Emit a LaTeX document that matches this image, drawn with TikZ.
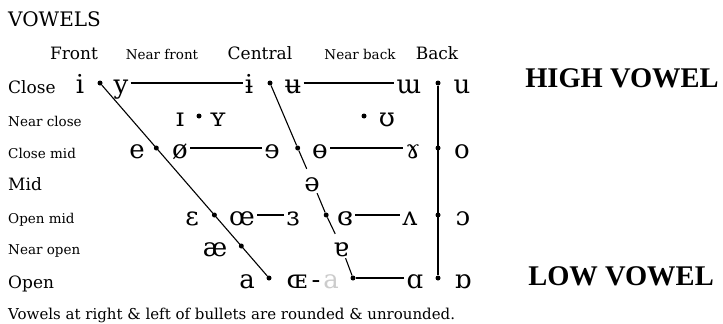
\documentclass[tikz,border=0pt]{standalone}
\usepackage{fontspec}
\setmainfont{DejaVu Serif}
\newfontfamily\tagfont{Liberation Serif}
\usetikzlibrary{positioning}

\begin{document}
\begin{tikzpicture}[x=1pt, y=-1pt,
  vow/.style={font=\fontsize{26}{26}\selectfont, inner sep=2pt, text height=20pt, text depth=0pt},
  dot/.style={circle, fill=black, inner sep=0pt, minimum size=5pt},
  bighead/.style={font=\fontsize{17}{17}\selectfont, inner sep=0pt},
  smallhead/.style={font=\fontsize{13.5}{13.5}\selectfont, inner sep=0pt},
  edge/.style={line width=1.1pt},
  tag/.style={font=\tagfont\bfseries\fontsize{28.5}{28.5}\selectfont}]

  \useasboundingbox (0,0) rectangle (723,324);

  % Title and column heads
  \node[anchor=base west, inner sep=0pt, font=\fontsize{20}{20}\selectfont] (title) at (8,27) {VOWELS};
  \node[bighead, anchor=base]   (hfront)  at (74,59)  {Front};
  \node[smallhead, anchor=base] (hnfront) at (162,59) {Near front};
  \node[bighead, anchor=base]   (hcentr)  at (260,59) {Central};
  \node[smallhead, anchor=base] (hnback)  at (360,59) {Near back};
  \node[bighead, anchor=base]   (hback)   at (437,59) {Back};

  % Row heads
  \foreach \y/\n/\s/\t in {93/rclose/bighead/Close, 126/rnclose/smallhead/Near close,
      158/rcmid/smallhead/Close mid, 190/rmid/bighead/Mid, 223/romid/smallhead/Open mid,
      254/rnopen/smallhead/Near open, 288/ropen/bighead/Open} {
    \node[\s, anchor=base west] (\n) at (8,\y) {\t};
  }

  % Bullets (rounded/unrounded pairs)
  \foreach \n/\p in {fb1/{(100,83)}, fb2/{(156.3,148)}, fb3/{(214.4,215)}, fb4/{(241.3,246)}, fb5/{(269,278)},
      cb1/{(270,83)}, cb2/{(297.7,148)}, cb3/{(326.2,215)}, cb4/{(353,278)},
      bb1/{(438,83)}, bb2/{(438,148)}, bb3/{(438,215)}, bb4/{(438,278)},
      nb1/{(199,116)}, nb2/{(364,116)}} {
    \node[dot] (\n) at \p {};
  }

  % Close
  \node[vow] (v1a) at (80,83)  {i};
  \node[vow] (v1b) at (121,83) {y};
  \node[vow] (v1c) at (249,83) {ɨ};
  \node[vow] (v1d) at (293,83) {ʉ};
  \node[vow] (v1e) at (409,83) {ɯ};
  \node[vow] (v1f) at (462,83) {u};
  % Near close
  \node[vow] (v2a) at (180,116) {ɪ};
  \node[vow] (v2b) at (218,116) {ʏ};
  \node[vow] (v2c) at (387,116) {ʊ};
  % Close mid
  \node[vow] (v3a) at (137,148) {e};
  \node[vow] (v3b) at (180,148) {ø};
  \node[vow] (v3c) at (272,148) {ɘ};
  \node[vow] (v3d) at (320,148) {ɵ};
  \node[vow] (v3e) at (413,148) {ɤ};
  \node[vow] (v3f) at (462,148) {o};
  % Mid
  \node[vow] (v4a) at (312,181) {ə};
  % Open mid
  \node[vow] (v5a) at (192,215) {ɛ};
  \node[vow] (v5b) at (242,215) {œ};
  \node[vow] (v5c) at (293,215) {ɜ};
  \node[vow] (v5d) at (345,215) {ɞ};
  \node[vow] (v5e) at (410,215) {ʌ};
  \node[vow] (v5f) at (463,215) {ɔ};
  % Near open
  \node[vow] (v6a) at (215,246) {æ};
  \node[vow] (v6b) at (341,246) {ɐ};
  % Open
  \node[vow] (v7a) at (247,278) {a};
  \node[vow] (v7b) at (297,278) {ɶ};
  \node[vow] (v7c) at (316,278) {-};
  \node[vow, gray!40] (v7d) at (331,278) {a};
  \node[vow] (v7e) at (415,278) {ɑ};
  \node[vow] (v7f) at (463,278) {ɒ};

  % Front and back edges of the chart
  \draw[edge] (fb1) -- (fb5);
  \draw[edge] (bb1) -- (bb4);

  % Central edge, broken round the schwa and turned a
  \draw[edge] (cb1) -- (cb2);
  \draw[edge] (cb2) -- (v4a);
  \draw[edge] (v4a) -- (cb3);
  \draw[edge] (cb3) -- (v6b);
  \draw[edge] (v6b) -- (cb4);

  % Horizontal lines
  \draw[edge] (v1b) -- (v1c);
  \draw[edge] (v1d) -- (v1e);
  \draw[edge] (v3b) -- (v3c);
  \draw[edge] (v3d) -- (v3e);
  \draw[edge] (v5b) -- (v5c);
  \draw[edge] (v5d) -- (v5e);
  \draw[edge] (cb4) -- (v7e);

  % Side tags
  \node[tag] (high) at (622,78)  {HIGH VOWEL};
  \node[tag] (low)  at (621,276) {LOW VOWEL};

  % Footnote
  \node[smallhead, font=\fontsize{15}{15}\selectfont, anchor=base west] (foot) at (8,319) {Vowels at right \& left of bullets are rounded \& unrounded.};

\end{tikzpicture}
\end{document}
